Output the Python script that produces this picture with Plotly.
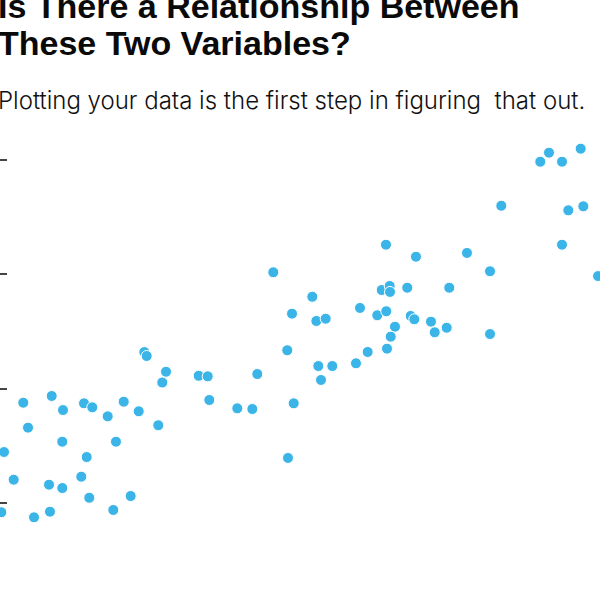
import plotly.graph_objects as go

x_vals = [24.05, 24.45, 3.88, 8.62, 10.5, 14.0, 15.38, 20.62, 17.95, 23.12,
          4.67, 10.38, 19.33, 0.67, 14.45, 2.28, 8.17, 10.38, 13.55, 14.88,
          21.78, 0.22, 5.67, 8.33, 18.88, 27.05, 27.67, 26.38, 33.12, 34.62,
          34.88, 39.55, 42.05, 42.88, 45.55, 52.05, 48.67, 52.72, 54.28, 47.88,
          53.05, 55.38, 53.5, 48.95, 48.0, 91.5, 90.05, 93.67, 96.78, 83.55,
          94.72, 97.22, 64.33, 93.67, 69.33, 77.83, 81.67, 99.67, 63.62, 64.95,
          65.0, 67.88, 74.88, 60.0, 62.88, 64.38, 68.45, 69.05, 71.83, 72.45,
          74.45, 81.67, 65.83, 65.12, 61.28, 64.5, 59.33]
y_vals = [23.2, 22.86, 18.77, 19.36, 18.13, 18.72, 18.37, 18.86, 17.58, 18.02,
          16.59, 15.36, 15.36, 14.46, 14.02, 12.04, 11.6, 11.31, 12.3, 10.46,
          10.61, 9.19, 8.75, 9.24, 9.39, 20.54, 21.48, 16.8, 21.13, 21.08,
          19.01, 18.28, 18.22, 21.28, 30.18, 28.04, 26.56, 25.92, 26.12, 23.36,
          21.98, 21.98, 20.76, 18.72, 13.94, 40.64, 39.85, 39.85, 40.99, 36.0,
          35.6, 35.95, 32.59, 32.59, 31.54, 31.87, 30.27, 29.85, 28.63, 28.98,
          28.46, 28.83, 28.83, 27.06, 26.42, 26.77, 26.36, 26.07, 25.86, 24.93,
          25.33, 24.78, 25.42, 24.55, 23.21, 23.5, 22.22]
y_ticks = [10, 20, 30, 40]

title_lines = ["Is There a Relationship Between", "These Two Variables?"]
subtitle_text = "Plotting your data is the first step in figuring  that out."

fig = go.Figure()
fig.add_trace(go.Scatter(
    x=x_vals, y=y_vals, mode="markers",
    marker=dict(size=11, color="#3bb5e8", line=dict(color="white", width=1)),
    cliponaxis=True, hoverinfo="skip",
))

title_font = dict(family="Liberation Sans", size=34, color="#0a0a0a", weight=700)
fig.update_layout(
    width=600, height=600,
    margin=dict(l=0, r=0, t=130, b=0),
    paper_bgcolor="white", plot_bgcolor="white",
    showlegend=False,
    xaxis=dict(range=[0, 100], visible=False, showgrid=False, zeroline=False),
    yaxis=dict(range=[1.516, 42.624], tickvals=y_ticks, showticklabels=False,
               ticks="inside", ticklen=7, tickwidth=2, tickcolor="#444",
               showgrid=False, zeroline=False, showline=False),
    annotations=[
        dict(text=title_lines[0], xref="paper", yref="paper", x=-0.007, y=1.2195,
             xanchor="left", yanchor="bottom", showarrow=False, align="left",
             font=title_font),
        dict(text=title_lines[1], xref="paper", yref="paper", x=-0.007, y=1.1404,
             xanchor="left", yanchor="bottom", showarrow=False, align="left",
             font=title_font),
        dict(text=subtitle_text, xref="paper", yref="paper", x=-0.006, y=1.028,
             xanchor="left", yanchor="bottom", showarrow=False, align="left",
             font=dict(family="Inter", size=24, color="#111", weight=300)),
    ],
)

fig.write_html("out.html")
